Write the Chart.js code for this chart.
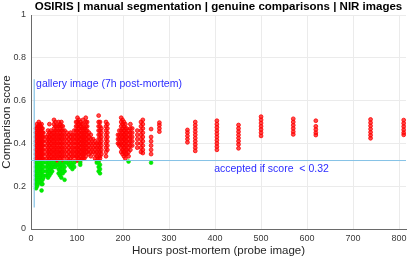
<!DOCTYPE html>
<html>
<head>
<meta charset="utf-8">
<script src="https://cdn.jsdelivr.net/npm/chart.js@4.4.1/dist/chart.umd.min.js"></script>
<style>
  body { margin: 0; background: #fff; }
  #wrap { width: 407px; height: 259px; }
</style>
</head>
<body>
<div id="wrap"><canvas id="scoreChart" width="407" height="259"></canvas></div>
<script>
// --- data ---
const chartTitle = 'OSIRIS | manual segmentation | genuine comparisons | NIR images';
const xTitle = 'Hours post-mortem (probe image)';
const yTitle = 'Comparison score';
const galleryLabel = 'gallery image (7h post-mortem)';
const acceptLabel = 'accepted if score  < 0.32';

const xTickValues = [0, 100, 200, 300, 400, 500, 600, 700, 800];
const yTickValues = [0, 0.2, 0.4, 0.6, 0.8, 1];
const xMax = 815;

const galleryHours = 7;
const galleryLineScores = [0.1, 0.7];
const acceptThreshold = 0.32;

// hours post-mortem of each probe column
const probeHours = [
    11, 13, 15, 17, 19, 21, 23, 25, 27,
    34, 37, 40, 43, 46,
    50, 53, 56,
    60, 63, 66, 69, 73,
    78, 82, 86, 90, 94,
    98, 101, 104, 107, 110, 113, 116, 119, 122,
    126, 130, 135, 139, 143, 147, 150, 153, 163, 166,
    189, 192, 196, 199, 202, 205, 208, 212, 216, 220, 231, 239, 243,
    261, 279, 340, 357, 404, 451, 500, 570, 619, 738, 810
];

// comparison scores for each probe column (same order as probeHours)
const scoreColumns = [
    [0.47, 0.45, 0.43, 0.41, 0.39, 0.37, 0.35, 0.33, 0.31, 0.29, 0.27, 0.25, 0.23, 0.21, 0.19],
    [0.49, 0.47, 0.45, 0.43, 0.41, 0.39, 0.37, 0.35, 0.33, 0.30, 0.28, 0.26, 0.24, 0.22, 0.20],
    [0.48, 0.46, 0.44, 0.42, 0.40, 0.38, 0.36, 0.34, 0.32, 0.31, 0.29, 0.27, 0.25, 0.23, 0.21],
    [0.50, 0.48, 0.46, 0.44, 0.42, 0.40, 0.38, 0.36, 0.34, 0.32, 0.30, 0.28, 0.26, 0.24, 0.22],
    [0.49, 0.47, 0.45, 0.43, 0.41, 0.39, 0.37, 0.35, 0.33, 0.31, 0.29, 0.27, 0.25, 0.23],
    [0.48, 0.46, 0.44, 0.42, 0.40, 0.38, 0.36, 0.34, 0.32, 0.30, 0.28, 0.26, 0.24, 0.22],
    [0.49, 0.47, 0.45, 0.43, 0.41, 0.39, 0.37, 0.35, 0.33, 0.31, 0.29, 0.27, 0.25, 0.23, 0.21, 0.18],
    [0.47, 0.45, 0.43, 0.41, 0.39, 0.37, 0.35, 0.33, 0.31, 0.29, 0.27, 0.25, 0.23, 0.21],
    [0.45, 0.43, 0.41, 0.39, 0.37, 0.35, 0.33, 0.31, 0.29, 0.27, 0.25, 0.24],

    [0.43, 0.41, 0.39, 0.37, 0.35, 0.33, 0.31, 0.29, 0.27, 0.25],
    [0.46, 0.44, 0.42, 0.40, 0.38, 0.36, 0.34, 0.32, 0.30, 0.28, 0.26, 0.24],
    [0.49, 0.45, 0.43, 0.41, 0.39, 0.37, 0.35, 0.33, 0.31, 0.29, 0.27, 0.25],
    [0.46, 0.44, 0.42, 0.40, 0.38, 0.36, 0.34, 0.32, 0.30, 0.28, 0.26],
    [0.45, 0.43, 0.41, 0.39, 0.37, 0.35, 0.33, 0.31, 0.29, 0.27],

    [0.51, 0.49, 0.47, 0.45, 0.43, 0.41, 0.39, 0.37, 0.35, 0.33, 0.31, 0.29],
    [0.50, 0.48, 0.46, 0.44, 0.42, 0.40, 0.38, 0.36, 0.34, 0.32, 0.30, 0.29],
    [0.48, 0.46, 0.44, 0.42, 0.40, 0.38, 0.36, 0.34, 0.32, 0.30],

    [0.50, 0.48, 0.46, 0.44, 0.42, 0.40, 0.38, 0.36, 0.34, 0.32, 0.30, 0.28, 0.26],
    [0.49, 0.47, 0.45, 0.43, 0.41, 0.39, 0.37, 0.35, 0.33, 0.31, 0.29, 0.27, 0.25],
    [0.50, 0.48, 0.46, 0.44, 0.42, 0.40, 0.38, 0.36, 0.34, 0.32, 0.30, 0.28, 0.26, 0.24],
    [0.48, 0.46, 0.44, 0.42, 0.40, 0.38, 0.36, 0.34, 0.32, 0.30, 0.28, 0.26],
    [0.46, 0.44, 0.42, 0.40, 0.38, 0.36, 0.34, 0.31, 0.29, 0.27, 0.23],

    [0.45, 0.43, 0.41, 0.39, 0.37, 0.35, 0.33, 0.31],
    [0.44, 0.42, 0.40, 0.38, 0.36, 0.34, 0.32, 0.30],
    [0.45, 0.43, 0.41, 0.39, 0.37, 0.35, 0.33, 0.31, 0.29],
    [0.44, 0.42, 0.40, 0.38, 0.36, 0.34, 0.32, 0.30, 0.28],
    [0.46, 0.44, 0.42, 0.40, 0.38, 0.36, 0.34, 0.31, 0.29],

    [0.50, 0.48, 0.46, 0.44, 0.42, 0.40, 0.38, 0.36, 0.34, 0.32],
    [0.52, 0.50, 0.48, 0.46, 0.44, 0.42, 0.40, 0.38, 0.36, 0.34, 0.32],
    [0.51, 0.49, 0.47, 0.45, 0.43, 0.41, 0.39, 0.37, 0.35, 0.33],
    [0.50, 0.48, 0.46, 0.44, 0.42, 0.40, 0.38, 0.36, 0.34, 0.32, 0.31, 0.30],
    [0.49, 0.47, 0.45, 0.43, 0.41, 0.39, 0.37, 0.35, 0.33],
    [0.51, 0.49, 0.47, 0.45, 0.43, 0.41, 0.39, 0.37, 0.35, 0.33],
    [0.47, 0.45, 0.43, 0.41, 0.39, 0.37, 0.35, 0.33],
    [0.52, 0.50, 0.48, 0.46, 0.44, 0.42, 0.40, 0.38, 0.36, 0.34],
    [0.50, 0.48, 0.46, 0.44, 0.42, 0.40, 0.38, 0.36],

    [0.45, 0.43, 0.41, 0.39, 0.37, 0.35],
    [0.44, 0.42, 0.40, 0.38, 0.36, 0.34],
    [0.42, 0.40, 0.38, 0.36],
    [0.41, 0.39, 0.37, 0.35, 0.33],
    [0.40, 0.38, 0.36, 0.34, 0.32, 0.31],
    [0.53, 0.50, 0.48, 0.46, 0.44, 0.42, 0.40, 0.38, 0.36, 0.34, 0.32, 0.31, 0.29, 0.27],
    [0.50, 0.48, 0.46, 0.44, 0.42, 0.40, 0.38, 0.36, 0.34, 0.33, 0.30, 0.28, 0.26],
    [0.47, 0.45, 0.43, 0.41, 0.39, 0.37, 0.35],
    [0.50, 0.48, 0.46, 0.44, 0.42, 0.40, 0.38, 0.36, 0.34],
    [0.49, 0.47, 0.45, 0.43, 0.41, 0.39, 0.37],

    [0.44, 0.42, 0.40],
    [0.46, 0.44, 0.42, 0.40, 0.39],
    [0.52, 0.50, 0.48, 0.46, 0.44, 0.42, 0.40, 0.38, 0.36],
    [0.51, 0.49, 0.47, 0.45, 0.43, 0.41, 0.39, 0.37, 0.35],
    [0.50, 0.48, 0.46, 0.44, 0.42, 0.40, 0.38, 0.36, 0.34],
    [0.49, 0.47, 0.45, 0.43, 0.41, 0.39, 0.37, 0.35, 0.33],
    [0.47, 0.45, 0.43, 0.41, 0.39, 0.37, 0.35],
    [0.46, 0.44, 0.42, 0.40, 0.38, 0.36, 0.34, 0.315],
    [0.49, 0.47, 0.45, 0.43, 0.41, 0.39, 0.37],
    [0.47, 0.45, 0.43, 0.41, 0.39],
    [0.46, 0.44, 0.42, 0.40, 0.38],
    [0.50, 0.48, 0.46, 0.44, 0.42, 0.40, 0.38, 0.36],
    [0.51, 0.49, 0.47, 0.45, 0.43, 0.41, 0.39, 0.37, 0.355],

    [0.467, 0.43, 0.41, 0.39, 0.37, 0.35, 0.31],
    [0.497, 0.485, 0.47, 0.455],
    [0.463, 0.45, 0.435, 0.42, 0.405],
    [0.50, 0.485, 0.47, 0.455, 0.44, 0.425, 0.41, 0.395, 0.38, 0.365],
    [0.506, 0.49, 0.475, 0.46, 0.445, 0.43, 0.415, 0.40, 0.385, 0.37],
    [0.486, 0.47, 0.455, 0.44, 0.425, 0.41, 0.395, 0.377],
    [0.525, 0.51, 0.495, 0.48, 0.465, 0.45, 0.435],
    [0.515, 0.50, 0.485, 0.47, 0.455, 0.442],
    [0.506, 0.48, 0.465, 0.45, 0.439],
    [0.512, 0.497, 0.482, 0.467, 0.452, 0.438, 0.424],
    [0.509, 0.494, 0.479, 0.464, 0.45, 0.44]
];

// --- split into rejected (red) and accepted (green) comparisons ---
const rejectedPoints = [];
const acceptedPoints = [];
probeHours.forEach((h, i) => {
    scoreColumns[i].forEach(s => {
        if (s < acceptThreshold) acceptedPoints.push({ x: h, y: s });
        else rejectedPoints.push({ x: h, y: s });
    });
});

const FONT = '"Liberation Sans", Arial, sans-serif';
const BLUE_LINE = '#86c3e6';
const TEXT_BLUE = '#2d2dff';

// Title + annotations drawn by a small plugin (centred on the plot area like MATLAB)
const textPlugin = {
    id: 'textPlugin',
    afterDraw(chart) {
        const { ctx, chartArea, scales } = chart;
        ctx.save();
        ctx.fillStyle = '#000';
        ctx.font = 'bold 11.5px ' + FONT;
        ctx.textAlign = 'center';
        ctx.textBaseline = 'middle';
        ctx.fillText(chartTitle, (chartArea.left + chartArea.right) / 2, 7);

        ctx.fillStyle = TEXT_BLUE;
        ctx.font = '10.5px ' + FONT;
        ctx.textAlign = 'left';
        ctx.fillText(galleryLabel, scales.x.getPixelForValue(11), scales.y.getPixelForValue(0.678));
        ctx.fillText(acceptLabel, scales.x.getPixelForValue(398), scales.y.getPixelForValue(0.28));
        ctx.restore();
    }
};

const ctx = document.getElementById('scoreChart').getContext('2d');
new Chart(ctx, {
    type: 'scatter',
    data: {
        datasets: [
            {
                type: 'line',
                label: 'threshold',
                data: [{ x: 0, y: acceptThreshold }, { x: xMax, y: acceptThreshold }],
                borderColor: BLUE_LINE,
                borderWidth: 1,
                pointRadius: 0,
                fill: false,
                order: 0
            },
            {
                type: 'line',
                label: 'gallery',
                data: galleryLineScores.map(s => ({ x: galleryHours, y: s })),
                borderColor: BLUE_LINE,
                borderWidth: 1.2,
                pointRadius: 0,
                fill: false,
                order: 0
            },
            {
                label: 'accepted',
                data: acceptedPoints,
                pointRadius: 1.9,
                pointBorderWidth: 0.6,
                backgroundColor: '#00ee00',
                borderColor: '#00dd00',
                order: 1
            },
            {
                label: 'rejected',
                data: rejectedPoints,
                pointRadius: 1.9,
                pointBorderWidth: 0.8,
                backgroundColor: 'rgba(255, 0, 0, 0.7)',
                borderColor: '#ff0000',
                order: 2
            }
        ]
    },
    options: {
        responsive: false,
        animation: false,
        layout: { autoPadding: false, padding: { top: 15, right: 1, left: 0, bottom: 0 } },
        plugins: {
            legend: { display: false },
            tooltip: { enabled: false },
            title: { display: false }
        },
        scales: {
            x: {
                type: 'linear',
                min: 0,
                max: xMax,
                afterFit: (scale) => {
                    scale.height = 30;
                    scale.paddingLeft = 0;
                    scale.paddingRight = 0;
                },
                afterBuildTicks: (scale) => { scale.ticks = xTickValues.map(v => ({ value: v })); },
                ticks: {
                    color: '#3a3a3a',
                    font: { family: FONT, size: 9 },
                    padding: 4,
                    maxRotation: 0,
                    callback: (v) => String(v)
                },
                grid: { color: '#ebebeb', drawTicks: false },
                border: { color: '#6a6a6a', width: 1 },
                title: {
                    display: true,
                    text: xTitle,
                    color: '#262626',
                    font: { family: FONT, size: 11.5 },
                    padding: { top: 0, bottom: 1 }
                }
            },
            y: {
                type: 'linear',
                min: 0,
                max: 1,
                afterFit: (scale) => { scale.width = 31; },
                afterBuildTicks: (scale) => { scale.ticks = yTickValues.map(v => ({ value: v })); },
                ticks: {
                    color: '#3a3a3a',
                    font: { family: FONT, size: 9 },
                    padding: 5,
                    callback: (v) => String(v)
                },
                grid: { color: '#ebebeb', drawTicks: false },
                border: { color: '#6a6a6a', width: 1 },
                title: {
                    display: true,
                    text: yTitle,
                    color: '#262626',
                    font: { family: FONT, size: 11.5 },
                    padding: { top: 0, bottom: 0 }
                }
            }
        }
    },
    plugins: [textPlugin]
});
</script>
</body>
</html>
